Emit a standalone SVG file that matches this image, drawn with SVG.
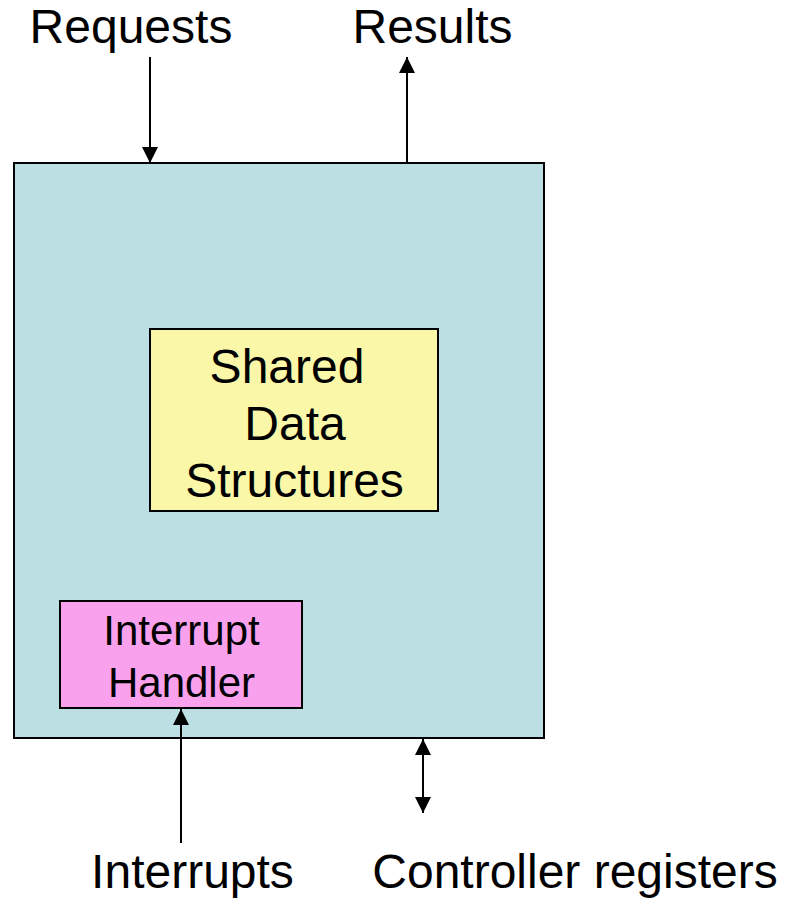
<svg xmlns="http://www.w3.org/2000/svg" width="786" height="898" viewBox="0 0 786 898">
  <style>
    .lbl { font-family: "Liberation Sans", Arial, sans-serif; font-size: 48px; fill: #000; }
    .small { font-size: 42px; }
    .box { stroke: #000; stroke-width: 2; }
    .wire { stroke: #000; stroke-width: 2; fill: none; }
  </style>
  <defs>
    <marker id="ah" viewBox="0 0 10 10" refX="10" refY="5" markerWidth="16" markerHeight="16" markerUnits="userSpaceOnUse" orient="auto-start-reverse">
      <path d="M0,0 L10,5 L0,10 Z" fill="#000"/>
    </marker>
  </defs>

  <g id="driver">
    <rect class="box" x="14" y="163" width="530" height="575" fill="#BBDFE3"/>
  </g>

  <g id="shared-data">
    <rect class="box" x="150" y="329" width="288" height="182" fill="#FAF8A8"/>
    <text class="lbl" x="287" y="383" text-anchor="middle">Shared</text>
    <text class="lbl" x="295" y="440" text-anchor="middle">Data</text>
    <text class="lbl" x="294.5" y="497" text-anchor="middle">Structures</text>
  </g>

  <g id="interrupt-handler">
    <rect class="box" x="60" y="601" width="242" height="107" fill="#F9A1EC"/>
    <text class="lbl small" x="181.5" y="645" text-anchor="middle">Interrupt</text>
    <text class="lbl small" x="181.5" y="697" text-anchor="middle">Handler</text>
  </g>

  <g id="labels">
    <text class="lbl" x="131" y="43" text-anchor="middle">Requests</text>
    <text class="lbl" x="432.5" y="43" text-anchor="middle">Results</text>
    <text class="lbl" x="192.5" y="888" text-anchor="middle">Interrupts</text>
    <text class="lbl" x="575" y="888" text-anchor="middle">Controller registers</text>
  </g>

  <g id="connectors">
    <line class="wire" x1="150" y1="57" x2="150" y2="163" marker-end="url(#ah)"/>
    <line class="wire" x1="407" y1="163" x2="407" y2="57" marker-end="url(#ah)"/>
    <line class="wire" x1="181" y1="843" x2="181" y2="709" marker-end="url(#ah)"/>
    <line class="wire" x1="423" y1="739" x2="423" y2="813" marker-start="url(#ah)" marker-end="url(#ah)"/>
  </g>
</svg>
